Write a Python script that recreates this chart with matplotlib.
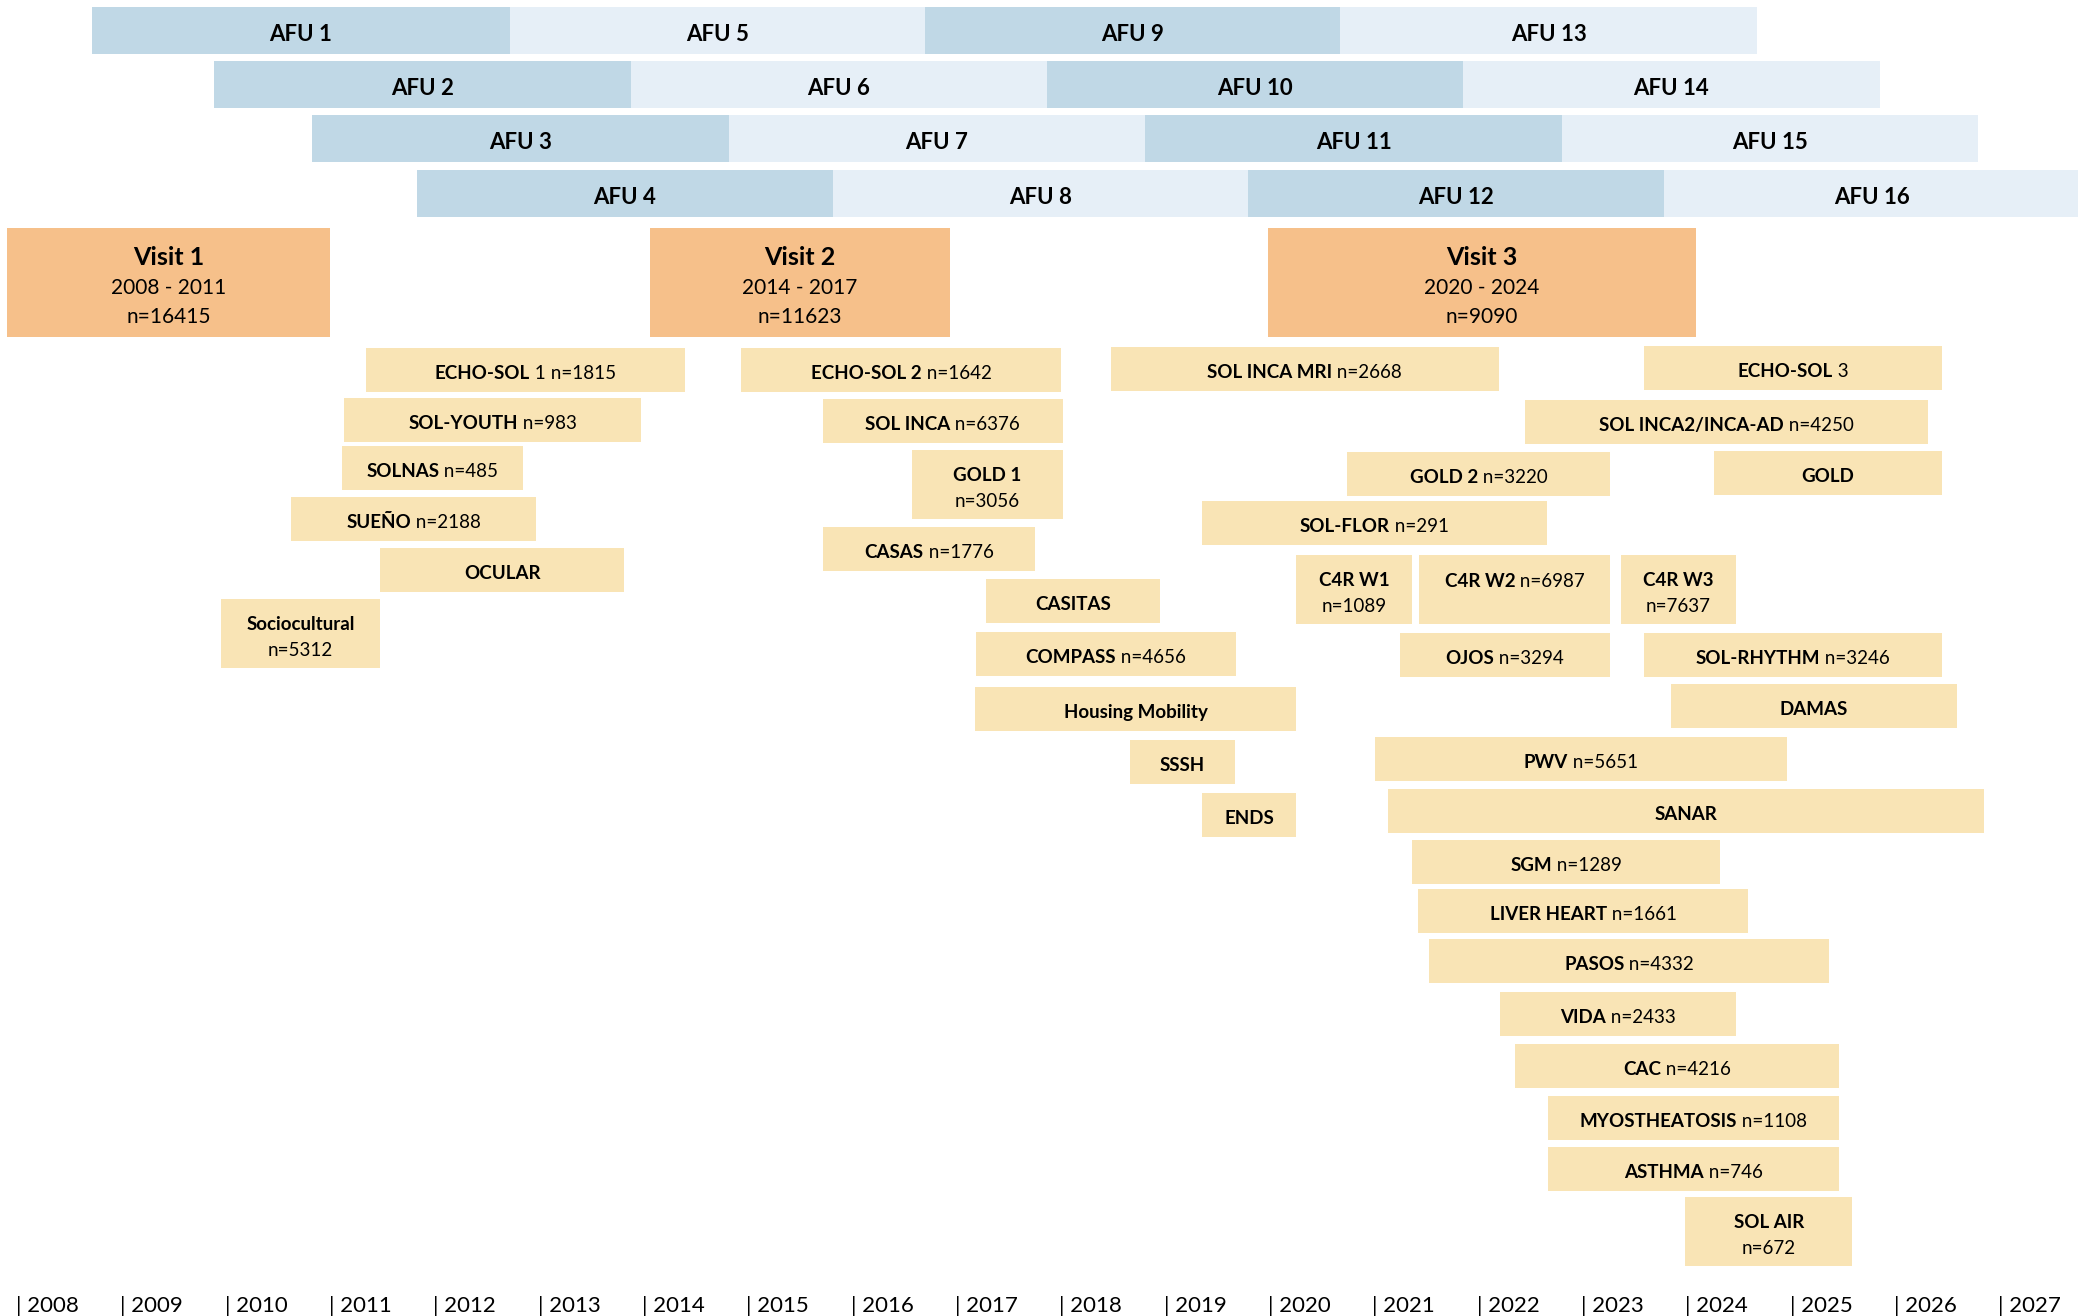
"""Timeline of HCHS/SOL visits, annual follow-ups and ancillary studies."""
import matplotlib
matplotlib.use("Agg")
import matplotlib.pyplot as plt
from matplotlib.patches import Rectangle
from matplotlib.offsetbox import TextArea, HPacker, AnnotationBbox

W, H, DPI = 2078, 1316, 100
AFU_DARK, AFU_LIGHT = "#c0d8e6", "#e6eff7"
VISIT, STUDY, INK = "#f6c08a", "#f9e4b5", "#000000"
FONT = "Lato"
DY = 4  # nudge: bbox centring sits text a touch high

# ---- data -----------------------------------------------------------------
years = list(range(2008, 2028))

afu_names = [f"AFU {i}" for i in range(1, 17)]
afu_start = [2008.73, 2009.90, 2010.84, 2011.84, 2012.73, 2013.89, 2014.83, 2015.83,
             2016.71, 2017.88, 2018.82, 2019.81, 2020.69, 2021.87, 2022.82, 2023.79]
afu_end = [2012.73, 2013.89, 2014.83, 2015.83, 2016.71, 2017.88, 2018.82, 2019.81,
           2020.69, 2021.87, 2022.82, 2023.79, 2024.69, 2025.86, 2026.80, 2027.79]

visit_names = ["Visit 1", "Visit 2", "Visit 3"]
visit_period = ["2008 - 2011", "2014 - 2017", "2020 - 2024"]
visit_n = [16415, 11623, 9090]
visit_start = [2007.91, 2014.08, 2020.00]
visit_end = [2011.01, 2016.95, 2024.10]

study_names = ["ECHO-SOL 1", "SOL-YOUTH", "SOLNAS", "SUEÑO", "OCULAR", "Sociocultural",
               "ECHO-SOL 2", "SOL INCA", "GOLD 1", "CASAS", "CASITAS", "COMPASS",
               "Housing Mobility", "SSSH", "ENDS", "SOL INCA MRI", "ECHO-SOL 3",
               "SOL INCA2/INCA-AD", "GOLD 2", "GOLD", "SOL-FLOR", "C4R W1", "C4R W2",
               "C4R W3", "OJOS", "SOL-RHYTHM", "DAMAS", "PWV", "SANAR", "SGM",
               "LIVER HEART", "PASOS", "VIDA", "CAC", "MYOSTHEATOSIS", "ASTHMA", "SOL AIR"]
study_n = [1815, 983, 485, 2188, None, 5312,
           1642, 6376, 3056, 1776, None, 4656,
           None, None, None, 2668, None,
           4250, 3220, None, 291, 1089, 6987,
           7637, 3294, 3246, None, 5651, None, 1289,
           1661, 4332, 2433, 4216, 1108, 746, 672]
study_start = [2011.35, 2011.14, 2011.12, 2010.64, 2011.49, 2009.96,
               2014.95, 2015.73, 2016.59, 2015.73, 2017.30, 2017.20,
               2017.19, 2018.68, 2019.37, 2018.49, 2023.60,
               2022.46, 2020.76, 2024.27, 2019.37, 2020.27, 2021.45,
               2023.38, 2021.26, 2023.60, 2023.86, 2021.02, 2021.15, 2021.38,
               2021.44, 2021.54, 2022.22, 2022.37, 2022.68, 2022.68, 2024.00]
study_end = [2014.41, 2013.99, 2012.86, 2012.98, 2013.83, 2011.49,
             2018.02, 2018.03, 2018.03, 2017.77, 2018.96, 2019.69,
             2020.27, 2019.68, 2020.27, 2022.21, 2026.46,
             2026.32, 2023.28, 2026.46, 2022.67, 2021.38, 2023.28,
             2024.48, 2023.28, 2026.46, 2026.60, 2024.97, 2026.86, 2024.33,
             2024.60, 2025.38, 2024.48, 2025.47, 2025.47, 2025.47, 2025.60]

# ---- layout (pixels from top) ---------------------------------------------
afu_top = [7, 61, 115, 170]
AFU_H = 46.5
VISIT_TOP, VISIT_H = 228, 109
study_top = [348, 398, 446, 497, 548, 599,
             348, 399, 450, 527, 579, 632,
             687, 740, 793, 347, 346,
             400, 452, 451, 501, 555, 555,
             555, 633, 633, 684, 737, 789, 840,
             889, 939, 992, 1044, 1096, 1147, 1197]
tall = {"Sociocultural", "GOLD 1", "C4R W1", "C4R W2", "C4R W3", "SOL AIR"}
light_suffix = {"ECHO-SOL 1": "ECHO-SOL", "ECHO-SOL 3": "ECHO-SOL"}
ROW_H, TALL_H = 43.5, 69

AX_BOTTOM = 1288
fig = plt.figure(figsize=(W / DPI, H / DPI), dpi=DPI)
fig.patch.set_facecolor("white")
ax = fig.add_axes([0, 1 - AX_BOTTOM / H, 1, AX_BOTTOM / H])
x0 = 2008 - 16 / 104.34
ax.set_xlim(x0, x0 + W / 104.34)
ax.set_ylim(AX_BOTTOM, 0)
for s in ax.spines.values():
    s.set_visible(False)
ax.set_yticks([])
ax.set_xticks(years, [f"| {y}" for y in years])
ax.tick_params(axis="x", length=0, pad=5.5, labelsize=16)
for lbl in ax.get_xticklabels():
    lbl.set_ha("left"); lbl.set_fontfamily(FONT)


def put_line(x, y, parts, size):
    kids = [TextArea(t, textprops=dict(fontfamily=FONT, fontweight=w, fontsize=size, color=INK))
            for t, w in parts]
    pack = HPacker(children=kids, align="baseline", pad=0, sep=0)
    ax.add_artist(AnnotationBbox(pack, (x, y), frameon=False, box_alignment=(0.5, 0.5), pad=0))


def box(x1, x2, top, h, color):
    ax.add_patch(Rectangle((x1, top), x2 - x1, h, facecolor=color, edgecolor="none"))


for i, name in enumerate(afu_names):
    top = afu_top[i % 4]
    col = AFU_DARK if (i // 4) % 2 == 0 else AFU_LIGHT
    box(afu_start[i], afu_end[i], top, AFU_H, col)
    put_line((afu_start[i] + afu_end[i]) / 2, top + AFU_H / 2 + DY, [(name, "bold")], 16)

for i, name in enumerate(visit_names):
    box(visit_start[i], visit_end[i], VISIT_TOP, VISIT_H, VISIT)
    xc = (visit_start[i] + visit_end[i]) / 2
    put_line(xc, VISIT_TOP + 29, [(name, "bold")], 18)
    put_line(xc, VISIT_TOP + 60, [(visit_period[i], "normal")], 15)
    put_line(xc, VISIT_TOP + 89, [(f"n={visit_n[i]}", "normal")], 15)

for i, name in enumerate(study_names):
    top = study_top[i]
    h = TALL_H if name in tall else ROW_H
    box(study_start[i], study_end[i], top, h, STUDY)
    xc = (study_start[i] + study_end[i]) / 2
    yc = top + h / 2 + DY
    n = study_n[i]
    if name in light_suffix:
        head = [(light_suffix[name], "bold"), (name[len(light_suffix[name]):], "normal")]
    else:
        head = [(name, "bold")]
    if name in tall and name != "C4R W2":
        put_line(xc, yc - 13, head, 13.5)
        put_line(xc, yc + 13, [(f"n={n}", "normal")], 13.5)
    elif name in tall:
        put_line(xc, yc - 12, head + [(f" n={n}", "normal")], 13.5)
    else:
        tail = [(f" n={n}", "normal")] if n is not None else []
        put_line(xc, yc, head + tail, 13.5)

fig.savefig("out.png", dpi=DPI, facecolor="white")
print("ok")
